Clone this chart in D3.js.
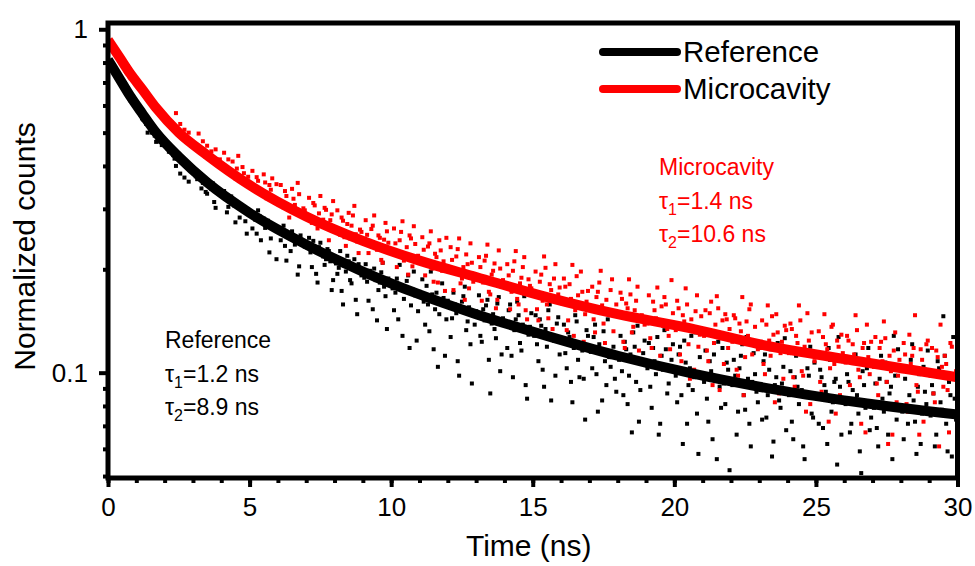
<!DOCTYPE html>
<html>
<head>
<meta charset="utf-8">
<script src="https://cdn.jsdelivr.net/npm/d3@7"></script>
<style>
  body { margin: 0; background: #fff; }
  text { font-family: Arial, "Liberation Sans", sans-serif; }
</style>
</head>
<body>
<div id="chart-area"></div>
<script>
// decay histograms, one value per 0.05 ns bin (normalized counts), 20 bins per row = 1 ns
var timeStep = 0.05;
var refCounts = [
  0.82,0.80,0.79,0.78,0.77,0.75,0.73,0.72,0.71,0.70,0.69,0.68,0.66,0.66,0.65,0.63,0.62,0.62,0.61,0.60,
  0.59,0.585,0.58,0.565,0.55,0.545,0.54,0.53,0.50,0.52,0.51,0.50,0.50,0.49,0.47,0.48,0.48,0.47,0.46,0.465,
  0.47,0.46,0.45,0.44,0.44,0.45,0.43,0.42,0.40,0.42,0.42,0.38,0.41,0.41,0.37,0.40,0.40,0.36,0.39,0.39,
  0.392,0.384,0.373,0.366,0.378,0.369,0.344,0.357,0.361,0.336,0.332,0.352,0.347,0.343,0.356,0.314,0.302,0.341,0.337,0.334,
  0.332,0.329,0.338,0.323,0.293,0.304,0.318,0.326,0.312,0.307,0.274,0.311,0.306,0.283,0.302,0.299,0.303,0.276,0.254,0.294,
  0.293,0.288,0.263,0.284,0.279,0.254,0.297,0.286,0.243,0.276,0.281,0.264,0.273,0.277,0.224,0.246,0.271,0.268,0.262,0.214,
  0.262,0.257,0.243,0.256,0.268,0.234,0.212,0.253,0.249,0.226,0.258,0.247,0.236,0.244,0.193,0.204,0.251,0.241,0.238,0.233,
  0.236,0.231,0.247,0.224,0.203,0.242,0.228,0.194,0.183,0.232,0.239,0.222,0.218,0.206,0.214,0.229,0.226,0.211,0.174,0.186,
  0.213,0.208,0.194,0.202,0.226,0.173,0.158,0.205,0.197,0.219,0.211,0.186,0.182,0.203,0.214,0.163,0.148,0.207,0.196,0.192,
  0.193,0.189,0.207,0.184,0.162,0.198,0.191,0.153,0.201,0.186,0.142,0.174,0.183,0.196,0.209,0.178,0.167,0.134,0.188,0.181,
  0.181,0.176,0.152,0.171,0.188,0.143,0.206,0.177,0.128,0.164,0.173,0.185,0.192,0.118,0.157,0.175,0.197,0.168,0.124,0.151,
  0.172,0.166,0.187,0.161,0.138,0.179,0.158,0.132,0.197,0.169,0.117,0.153,0.171,0.104,0.148,0.163,0.182,0.165,0.112,0.143,
  0.162,0.156,0.127,0.144,0.171,0.158,0.149,0.108,0.098,0.152,0.161,0.167,0.178,0.133,0.141,0.155,0.121,0.093,0.147,0.138,
  0.151,0.146,0.168,0.128,0.123,0.153,0.142,0.157,0.163,0.109,0.087,0.139,0.148,0.134,0.126,0.159,0.166,0.101,0.113,0.144,
  0.141,0.137,0.118,0.152,0.158,0.112,0.097,0.133,0.143,0.161,0.147,0.122,0.116,0.138,0.167,0.092,0.084,0.129,0.136,0.149,
  0.132,0.128,0.147,0.121,0.108,0.143,0.137,0.102,0.091,0.134,0.119,0.152,0.158,0.083,0.127,0.124,0.098,0.139,0.145,0.113,
  0.123,0.126,0.138,0.114,0.103,0.131,0.127,0.094,0.082,0.118,0.147,0.141,0.109,0.097,0.122,0.116,0.096,0.073,0.133,0.128,
  0.118,0.115,0.103,0.127,0.138,0.099,0.077,0.121,0.114,0.083,0.132,0.108,0.092,0.143,0.111,0.104,0.148,0.119,0.096,0.088,
  0.112,0.109,0.128,0.101,0.086,0.123,0.117,0.081,0.098,0.113,0.067,0.131,0.119,0.094,0.137,0.072,0.089,0.106,0.114,0.124,
  0.106,0.103,0.122,0.091,0.079,0.118,0.108,0.099,0.127,0.066,0.071,0.112,0.102,0.133,0.117,0.087,0.093,0.104,0.109,0.121,
  0.101,0.098,0.082,0.113,0.119,0.086,0.062,0.124,0.107,0.071,0.092,0.103,0.128,0.089,0.097,0.131,0.076,0.058,0.111,0.099,
  0.097,0.094,0.116,0.084,0.072,0.108,0.101,0.064,0.113,0.096,0.056,0.123,0.091,0.079,0.118,0.093,0.081,0.107,0.102,0.052,
  0.094,0.092,0.109,0.098,0.066,0.077,0.103,0.112,0.121,0.086,0.078,0.127,0.096,0.071,0.061,0.094,0.114,0.099,0.088,0.082,
  0.091,0.089,0.073,0.108,0.113,0.074,0.086,0.102,0.117,0.057,0.063,0.092,0.097,0.122,0.083,0.079,0.093,0.104,0.126,0.068,
  0.088,0.086,0.101,0.072,0.064,0.097,0.112,0.091,0.081,0.116,0.089,0.061,0.056,0.087,0.103,0.098,0.119,0.076,0.074,0.107,
  0.086,0.084,0.071,0.102,0.097,0.069,0.092,0.088,0.062,0.118,0.109,0.077,0.082,0.094,0.096,0.054,0.127,0.091,0.066,0.108,
  0.083,0.081,0.099,0.094,0.067,0.071,0.089,0.108,0.113,0.086,0.076,0.059,0.051,0.101,0.092,0.079,0.103,0.118,0.068,0.074,
  0.082,0.079,0.093,0.069,0.061,0.096,0.112,0.084,0.077,0.107,0.094,0.066,0.087,0.091,0.056,0.128,0.098,0.073,0.117,0.102,
  0.079,0.077,0.064,0.096,0.102,0.071,0.086,0.109,0.121,0.083,0.072,0.058,0.091,0.099,0.062,0.076,0.104,0.088,0.081,0.116,
  0.077,0.075,0.092,0.087,0.061,0.066,0.108,0.103,0.082,0.078,0.146,0.112,0.071,0.059,0.094,0.086,0.057,0.127,0.084,0.073
];
var cavCounts = [
  0.94,0.92,0.90,0.89,0.87,0.85,0.84,0.83,0.81,0.80,0.79,0.78,0.76,0.75,0.74,0.73,0.72,0.72,0.71,0.70,
  0.70,0.695,0.69,0.675,0.66,0.65,0.64,0.635,0.64,0.62,0.61,0.605,0.60,0.59,0.58,0.575,0.58,0.565,0.56,0.555,
  0.56,0.555,0.55,0.54,0.53,0.535,0.52,0.515,0.57,0.51,0.50,0.53,0.49,0.495,0.51,0.485,0.48,0.50,0.47,0.465,
  0.468,0.461,0.452,0.455,0.497,0.443,0.438,0.472,0.433,0.425,0.458,0.421,0.417,0.441,0.412,0.408,0.447,0.405,0.402,0.418,
  0.401,0.396,0.437,0.392,0.386,0.418,0.383,0.377,0.412,0.372,0.368,0.393,0.428,0.364,0.361,0.397,0.381,0.357,0.359,0.372,
  0.353,0.348,0.387,0.346,0.342,0.371,0.362,0.336,0.333,0.329,0.378,0.358,0.322,0.326,0.352,0.341,0.368,0.318,0.312,0.354,
  0.318,0.314,0.352,0.311,0.303,0.338,0.327,0.306,0.283,0.296,0.343,0.321,0.308,0.294,0.357,0.331,0.292,0.287,0.301,0.297,
  0.288,0.284,0.323,0.281,0.273,0.312,0.307,0.276,0.263,0.291,0.327,0.272,0.279,0.302,0.298,0.268,0.243,0.278,0.289,0.316,
  0.263,0.258,0.297,0.256,0.252,0.283,0.277,0.248,0.234,0.271,0.292,0.246,0.268,0.287,0.306,0.253,0.241,0.223,0.261,0.257,
  0.243,0.241,0.278,0.252,0.223,0.236,0.262,0.268,0.287,0.232,0.228,0.251,0.247,0.213,0.209,0.244,0.273,0.258,0.239,0.226,
  0.227,0.224,0.263,0.238,0.203,0.221,0.243,0.257,0.276,0.212,0.218,0.232,0.193,0.251,0.246,0.204,0.267,0.237,0.214,0.219,
  0.212,0.209,0.248,0.228,0.192,0.206,0.233,0.238,0.258,0.201,0.184,0.222,0.217,0.183,0.243,0.227,0.198,0.211,0.173,0.247,
  0.201,0.198,0.232,0.213,0.174,0.196,0.218,0.229,0.246,0.182,0.188,0.203,0.163,0.221,0.207,0.176,0.238,0.209,0.184,0.191,
  0.191,0.188,0.217,0.203,0.162,0.183,0.212,0.219,0.236,0.172,0.169,0.193,0.198,0.208,0.154,0.163,0.227,0.201,0.178,0.186,
  0.181,0.178,0.207,0.192,0.153,0.172,0.198,0.211,0.226,0.164,0.158,0.182,0.189,0.203,0.217,0.152,0.143,0.187,0.179,0.176,
  0.171,0.168,0.197,0.153,0.142,0.184,0.193,0.162,0.218,0.202,0.158,0.144,0.181,0.174,0.134,0.188,0.207,0.166,0.169,0.177,
  0.162,0.159,0.188,0.178,0.133,0.142,0.181,0.164,0.206,0.128,0.152,0.191,0.168,0.156,0.197,0.172,0.123,0.148,0.161,0.173,
  0.153,0.156,0.178,0.143,0.131,0.166,0.172,0.183,0.198,0.157,0.139,0.122,0.163,0.148,0.114,0.174,0.187,0.132,0.151,0.158,
  0.148,0.146,0.171,0.164,0.123,0.118,0.159,0.154,0.187,0.169,0.131,0.136,0.152,0.162,0.178,0.116,0.109,0.147,0.142,0.138,
  0.141,0.139,0.168,0.126,0.118,0.161,0.152,0.144,0.177,0.103,0.112,0.156,0.137,0.166,0.158,0.134,0.128,0.117,0.186,0.149,
  0.136,0.133,0.162,0.154,0.113,0.108,0.147,0.141,0.176,0.158,0.121,0.096,0.143,0.132,0.102,0.151,0.168,0.119,0.129,0.146,
  0.131,0.128,0.152,0.116,0.108,0.149,0.161,0.092,0.122,0.138,0.167,0.154,0.089,0.126,0.142,0.106,0.148,0.143,0.118,0.134,
  0.126,0.123,0.147,0.144,0.102,0.098,0.139,0.132,0.166,0.086,0.111,0.141,0.128,0.153,0.158,0.113,0.091,0.136,0.121,0.117,
  0.121,0.118,0.142,0.106,0.099,0.138,0.157,0.124,0.112,0.146,0.129,0.082,0.148,0.131,0.087,0.114,0.123,0.096,0.137,0.133,
  0.117,0.114,0.139,0.134,0.097,0.091,0.128,0.122,0.157,0.142,0.101,0.098,0.119,0.077,0.149,0.124,0.081,0.131,0.112,0.108,
  0.113,0.111,0.132,0.094,0.088,0.127,0.148,0.121,0.117,0.072,0.103,0.136,0.138,0.106,0.076,0.124,0.119,0.086,0.129,0.114,
  0.109,0.107,0.128,0.124,0.092,0.083,0.121,0.113,0.147,0.133,0.102,0.097,0.071,0.118,0.122,0.067,0.138,0.111,0.099,0.123,
  0.106,0.104,0.127,0.093,0.086,0.118,0.123,0.108,0.141,0.126,0.094,0.062,0.112,0.101,0.066,0.116,0.131,0.082,0.098,0.109,
  0.103,0.101,0.122,0.113,0.081,0.077,0.129,0.106,0.112,0.118,0.147,0.092,0.088,0.066,0.117,0.109,0.072,0.102,0.121,0.124,
  0.099,0.098,0.118,0.087,0.082,0.116,0.111,0.061,0.138,0.104,0.091,0.112,0.106,0.089,0.067,0.122,0.119,0.076,0.096,0.101
];

// biexponential fit curves
var fitTimes = [0, 0.4, 0.8, 1.2, 1.7, 2.5, 3.5, 5, 7, 9, 11, 13, 15.5, 18, 20.5, 23, 26.5, 30];
var refFit = [0.815, 0.72, 0.636, 0.57, 0.50, 0.425, 0.358, 0.292, 0.236, 0.197, 0.169, 0.148, 0.128, 0.112, 0.100, 0.091, 0.082, 0.0755];
var cavFit = [0.93, 0.83, 0.74, 0.67, 0.59, 0.50, 0.43, 0.352, 0.285, 0.242, 0.212, 0.19, 0.166, 0.148, 0.135, 0.121, 0.108, 0.097];

var xTicks = [0, 5, 10, 15, 20, 25, 30];
var yTicks = [0.1, 1];
var seriesNames = ["Reference", "Microcavity"];
var seriesColors = ["#000000", "#ff0000"];

var margin = { left: 108, right: 17.5, top: 23, bottom: 88 };
var width = 975 - margin.left - margin.right;
var height = 566 - margin.top - margin.bottom;

var svg = d3.select("#chart-area")
  .append("svg")
  .attr("width", 975)
  .attr("height", 566);

var g = svg.append("g")
  .attr("transform", "translate(" + margin.left + "," + margin.top + ")");

var x = d3.scaleLinear()
  .domain([0, 30])
  .range([0, width]);

var y = d3.scaleLog()
  .domain([0.04935, 1.043])
  .range([height, 0]);

g.append("clipPath")
  .attr("id", "plot-clip")
  .append("rect")
  .attr("width", width)
  .attr("height", height);

var plot = g.append("g").attr("clip-path", "url(#plot-clip)");

// scatter (raw counts)
[refCounts, cavCounts].forEach((counts, i) => {
  plot.append("g")
    .selectAll("rect")
    .data(counts)
    .enter()
    .append("rect")
    .attr("x", (d, k) => x(k * timeStep) - 2)
    .attr("y", d => y(d) - 2)
    .attr("width", 4)
    .attr("height", 4)
    .attr("fill", seriesColors[i]);
});

// fit lines
var line = d3.line()
  .x(d => x(d[0]))
  .y(d => y(d[1]))
  .curve(d3.curveMonotoneX);

[refFit, cavFit].forEach((fit, i) => {
  plot.append("path")
    .datum(fitTimes.map((t, k) => [t, fit[k]]))
    .attr("d", line)
    .attr("fill", "none")
    .attr("stroke", seriesColors[i])
    .attr("stroke-width", 10);
});

// Axes
var xAxisCall = d3.axisBottom(x)
  .tickValues(xTicks)
  .tickSize(9)
  .tickPadding(11)
  .tickSizeOuter(0);
var xMinor = d3.axisBottom(x)
  .tickValues(d3.range(0, 31, 1))
  .tickSize(5)
  .tickFormat("")
  .tickSizeOuter(0);
var yAxisCall = d3.axisLeft(y)
  .tickValues(yTicks)
  .tickSize(9)
  .tickPadding(11)
  .tickFormat(d => d === 1 ? "1" : "0.1")
  .tickSizeOuter(0);
var yMinor = d3.axisLeft(y)
  .tickValues([0.05, 0.06, 0.07, 0.08, 0.09, 0.2, 0.3, 0.4, 0.5, 0.6, 0.7, 0.8, 0.9])
  .tickSize(5)
  .tickFormat("")
  .tickSizeOuter(0);

[[xMinor, true], [xAxisCall, true], [yMinor, false], [yAxisCall, false]].forEach(a => {
  var ax = g.append("g")
    .attr("transform", a[1] ? "translate(0," + height + ")" : null)
    .call(a[0]);
  ax.select(".domain").remove();
  ax.selectAll("line").attr("stroke", "#000").attr("stroke-width", 4);
  ax.selectAll("text")
    .attr("fill", "#000")
    .attr("font-size", "26px");
});

// frame
g.append("rect")
  .attr("width", width)
  .attr("height", height)
  .attr("fill", "none")
  .attr("stroke", "#000")
  .attr("stroke-width", 5);

// X Label
g.append("text")
  .attr("x", width / 2 - 4)
  .attr("y", height + 78)
  .attr("text-anchor", "middle")
  .attr("font-size", "30px")
  .text("Time (ns)");

// Y Label
g.append("text")
  .attr("x", -(height / 2) + 4)
  .attr("y", -73)
  .attr("transform", "rotate(-90)")
  .attr("text-anchor", "middle")
  .attr("font-size", "30px")
  .text("Normalized counts");

// Legend
var legend = g.selectAll(".legend")
  .data(seriesNames)
  .enter()
  .append("g")
  .attr("class", "legend")
  .attr("transform", (d, i) => "translate(" + (603 - margin.left) + "," + (52 - margin.top + i * 37) + ")");

legend.append("line")
  .attr("x1", 0)
  .attr("x2", 74)
  .attr("stroke", (d, i) => seriesColors[i])
  .attr("stroke-width", 8)
  .attr("stroke-linecap", "round");

legend.append("text")
  .attr("x", 80)
  .attr("y", 10)
  .attr("font-size", "29.5px")
  .text(d => d);

// lifetime annotations
var notes = [
  { name: "Reference", t1: "1.2", t2: "8.9", px: 165, py: 348, color: "#000" },
  { name: "Microcavity", t1: "1.4", t2: "10.6", px: 659, py: 175, color: "#ff0000" }
];

notes.forEach(n => {
  g.append("text")
    .attr("x", n.px - margin.left)
    .attr("y", n.py - margin.top)
    .attr("font-size", "23px")
    .attr("fill", n.color)
    .text(n.name);
  [["1", n.t1], ["2", n.t2]].forEach((r, i) => {
    var ln = g.append("text")
      .attr("x", n.px - margin.left)
      .attr("y", n.py - margin.top + (i + 1) * 33.5)
      .attr("font-size", "23px")
      .attr("fill", n.color);
    ln.append("tspan").text("\u03c4");
    ln.append("tspan").attr("dy", 6).attr("font-size", "16px").text(r[0]);
    ln.append("tspan").attr("dy", -6).text("=" + r[1] + " ns");
  });
});
</script>
</body>
</html>
